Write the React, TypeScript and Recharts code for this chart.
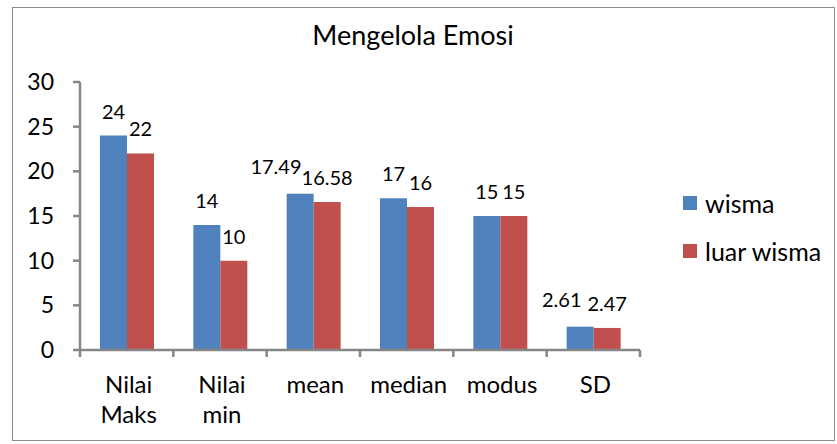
import React from 'react';
import { BarChart, Bar, XAxis, YAxis, LabelList } from 'recharts';

const categories = ['Nilai Maks', 'Nilai min', 'mean', 'median', 'modus', 'SD'];
const wisma = [24, 14, 17.49, 17, 15, 2.61];
const luarWisma = [22, 10, 16.58, 16, 15, 2.47];
const yTicks = [0, 5, 10, 15, 20, 25, 30];

const series = [
  { key: 'wisma', name: 'wisma', color: '#4F81BD' },
  { key: 'luarWisma', name: 'luar wisma', color: '#C0504D' },
];

const data = categories.map((c, i) => ({ name: c, wisma: wisma[i], luarWisma: luarWisma[i] }));

const FONT = 'Lato, "Open Sans", sans-serif';
const AXIS = '#868686';
const W = 837;
const H = 444;
const margin = { top: 82, right: 197, bottom: 34, left: 30 };
const plotW = W - margin.left - 50 - margin.right;
const band = plotW / categories.length;

const XTick = (props: any) => {
  const { x, y, payload, index } = props;
  const lines = String(payload.value).split(' ');
  return (
    <g>
      <line x1={x - band / 2} y1={y} x2={x - band / 2} y2={y + 7} stroke={AXIS} strokeWidth={2.5} />
      {index === categories.length - 1 && (
        <line x1={x + band / 2} y1={y} x2={x + band / 2} y2={y + 7} stroke={AXIS} strokeWidth={2.5} />
      )}
      <text textAnchor="middle" fontFamily={FONT} fontSize={24} fill="#000">
        {lines.map((l, i) => (
          <tspan key={i} x={x + 2} y={y + 43 + i * 30}>
            {l}
          </tspan>
        ))}
      </text>
    </g>
  );
};

// wisma labels with decimals sit to the left so they don't collide with the next label
const makeLabel = (isFirst: boolean) => (props: any) => {
  const { x, y, width, value } = props;
  const shift = isFirst && !Number.isInteger(value);
  return (
    <text
      x={shift ? x + width * 0.55 : x + width / 2}
      y={shift ? y - 20 : y - 17}
      textAnchor={shift ? 'end' : 'middle'}
      fontFamily={FONT}
      fontSize={20}
      fill="#000"
    >
      {value}
    </text>
  );
};

export default function App() {
  return (
    <div style={{ position: 'relative', width: W, height: H, background: '#fff' }}>
      <style>{'body{margin:0}'}</style>
      <div
        style={{
          position: 'absolute',
          left: 12,
          top: 7,
          width: 823,
          height: 434,
          boxSizing: 'border-box',
          border: '1.5px solid #8c8c8c',
        }}
      />
      <div
        style={{
          position: 'absolute',
          left: 0,
          width: 826,
          top: 18,
          textAlign: 'center',
          fontFamily: FONT,
          fontSize: 27,
          lineHeight: '34px',
          color: '#000',
        }}
      >
        Mengelola Emosi
      </div>
      <div style={{ position: 'absolute', left: 0, top: 0 }}>
        <BarChart width={W} height={H} data={data} margin={margin} barGap={0} barSize={27}>
          <XAxis
            dataKey="name"
            axisLine={{ stroke: AXIS, strokeWidth: 2.5 }}
            tickLine={false}
            tickSize={0}
            tickMargin={0}
            height={60}
            interval={0}
            tick={<XTick />}
          />
          <YAxis
            domain={[0, 30]}
            ticks={yTicks}
            width={50}
            axisLine={{ stroke: AXIS, strokeWidth: 2.5 }}
            tickLine={{ stroke: AXIS, strokeWidth: 2.5 }}
            tickSize={7}
            tickMargin={19}
            tick={{ fontFamily: FONT, fontSize: 23, fill: '#000' }}
          />
          {series.map((s, i) => (
            <Bar key={s.key} dataKey={s.key} name={s.name} fill={s.color} isAnimationActive={false}>
              <LabelList dataKey={s.key} content={makeLabel(i === 0)} />
            </Bar>
          ))}
        </BarChart>
      </div>
      <div style={{ position: 'absolute', left: 683, top: 184, fontFamily: FONT, fontSize: 25, color: '#000' }}>
        {series.map((s) => (
          <div key={s.key} style={{ display: 'flex', alignItems: 'center', height: 38, marginBottom: 10 }}>
            <span style={{ width: 14, height: 14, background: s.color, marginRight: 8, display: 'inline-block' }} />
            {s.name}
          </div>
        ))}
      </div>
    </div>
  );
}
